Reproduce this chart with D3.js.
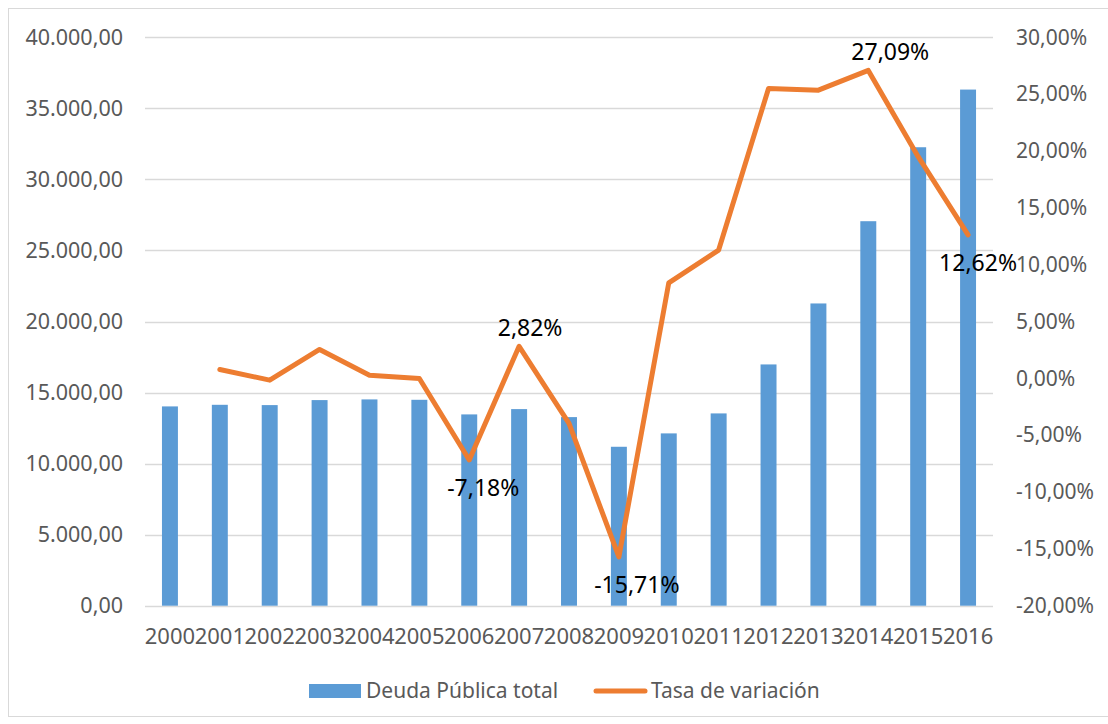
<!DOCTYPE html>
<html>
<head>
<meta charset="utf-8">
<script src="https://cdn.jsdelivr.net/npm/d3@7"></script>
<style>
    body { margin: 0; background: #fff; }
    text { font-family: "Noto Sans", "Open Sans", sans-serif; }
</style>
</head>
<body>
<svg id="chart" width="1108" height="724"></svg>
<script>
// values
const years = ['2000', '2001', '2002', '2003', '2004', '2005', '2006', '2007', '2008',
    '2009', '2010', '2011', '2012', '2013', '2014', '2015', '2016'];
const deuda = [14025, 14138, 14117, 14469, 14517, 14490, 13462, 13835, 13272,
    11184, 12126, 13532, 16979, 21270, 27058, 32263, 36321];
// first year has no variation
const tasa = [null, 0.78, -0.16, 2.54, 0.28, -0.01, -7.18, 2.82, -3.97,
    -15.71, 8.40, 11.28, 25.50, 25.35, 27.09, 19.50, 12.62];
const leftTicks = [0, 5000, 10000, 15000, 20000, 25000, 30000, 35000, 40000];
const rightTicks = [-20, -15, -10, -5, 0, 5, 10, 15, 20, 25, 30];
// which points carry a data label, and on which side
const labelYears = ['2006', '2007', '2009', '2014', '2016'];
const labelSide = ['below', 'above', 'below', 'above', 'below'];
// small horizontal nudge seen in the picture (px)
const labelDx = [14, 11, 18, 22, 10];

const seriesNames = ['Deuda Pública total', 'Tasa de variación'];
const blue = '#5B9BD5';
const orange = '#ED7D31';
const grey = '#595959';

const svg = d3.select('#chart');

// outer chart border
svg.append('rect')
    .attr('x', 8.5).attr('y', 8.5)
    .attr('width', 1110).attr('height', 708)
    .attr('fill', 'none')
    .attr('stroke', '#D9D9D9');

const x = d3.scaleBand().domain(years).range([145, 993]).paddingInner(0.68).paddingOuter(0.34);
const xc = (y) => x(y) + x.bandwidth() / 2;
const yL = d3.scaleLinear().domain([0, 40000]).range([605.7, 37.3]);
const yR = d3.scaleLinear().domain([-20, 30]).range([605.7, 37.3]);

const fmtL = (v) => d3.format(',.2f')(v).replace(/,/g, '#').replace('.', ',').replace(/#/g, '.');
const fmtR = (v) => d3.format('.2f')(v).replace('.', ',').replace('\u2212', '-') + '%';

// gridlines
svg.append('g')
    .selectAll('line')
    .data(leftTicks)
    .join('line')
    .attr('x1', 145).attr('x2', 993)
    .attr('y1', (d) => Math.round(yL(d)) + 0.5)
    .attr('y2', (d) => Math.round(yL(d)) + 0.5)
    .attr('stroke', '#D9D9D9')
    .attr('stroke-width', 1.3);

// left axis
const axL = svg.append('g').attr('transform', 'translate(145,0)')
    .call(d3.axisLeft(yL).tickValues(leftTicks).tickFormat(fmtL).tickSize(0).tickPadding(22));
axL.select('.domain').remove();
axL.selectAll('text').attr('font-size', 21.5).attr('fill', grey).attr('font-family', '"Noto Sans"');

// right axis
const axR = svg.append('g').attr('transform', 'translate(993,0)')
    .call(d3.axisRight(yR).tickValues(rightTicks).tickFormat(fmtR).tickSize(0).tickPadding(23));
axR.select('.domain').remove();
axR.selectAll('text').attr('font-size', 21).attr('fill', grey).attr('font-family', '"Noto Sans"');

// bottom axis
const axB = svg.append('g').attr('transform', 'translate(0,605.7)')
    .call(d3.axisBottom(x).tickSize(0).tickPadding(23));
axB.select('.domain').remove();
axB.selectAll('text').attr('font-size', 22).attr('fill', grey)
    .attr('font-family', '"Noto Sans"');

// bars
svg.append('g')
    .selectAll('rect')
    .data(years)
    .join('rect')
    .attr('x', (d) => x(d))
    .attr('width', x.bandwidth())
    .attr('y', (d, i) => yL(deuda[i]))
    .attr('height', (d, i) => yL(0) - yL(deuda[i]))
    .attr('fill', blue);

// line
const pts = years.map((d, i) => ({year: d, v: tasa[i]})).filter((p) => p.v !== null);
const line = d3.line().x((p) => xc(p.year)).y((p) => yR(p.v));
svg.append('path')
    .datum(pts)
    .attr('d', line)
    .attr('fill', 'none')
    .attr('stroke', orange)
    .attr('stroke-width', 5)
    .attr('stroke-linejoin', 'round')
    .attr('stroke-linecap', 'round');

// data labels
svg.append('g')
    .selectAll('text')
    .data(labelYears)
    .join('text')
    .attr('x', (d, i) => xc(d) + labelDx[i])
    .attr('y', (d, i) => {
        const v = tasa[years.indexOf(d)];
        return labelSide[i] === 'above' ? yR(v) - 10.5 : yR(v) + 36;
    })
    .attr('text-anchor', 'middle')
    .attr('font-size', 23)
    .attr('fill', '#000')
    .text((d) => fmtR(tasa[years.indexOf(d)]));

// legend
const leg = svg.append('g');
leg.append('rect')
    .attr('x', 309).attr('y', 684).attr('width', 52).attr('height', 14)
    .attr('fill', blue);
leg.append('text')
    .attr('x', 366).attr('y', 698)
    .attr('font-size', 21).attr('fill', grey)
    .text(seriesNames[0]);
leg.append('line')
    .attr('x1', 596).attr('x2', 645).attr('y1', 691).attr('y2', 691)
    .attr('stroke', orange).attr('stroke-width', 5).attr('stroke-linecap', 'round');
leg.append('text')
    .attr('x', 651).attr('y', 698)
    .attr('font-size', 21).attr('fill', grey)
    .text(seriesNames[1]);
</script>
</body>
</html>
